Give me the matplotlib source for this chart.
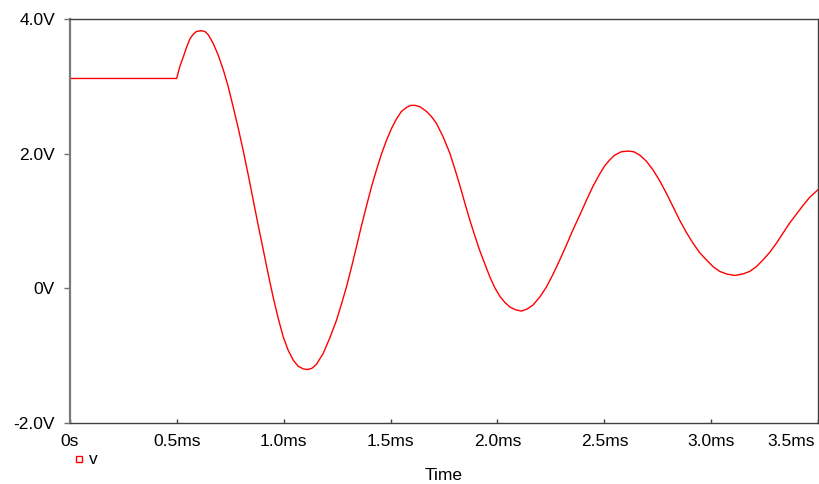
import matplotlib
matplotlib.use("Agg")
import matplotlib.pyplot as plt
from matplotlib.lines import Line2D
import matplotlib.transforms as mtransforms

plt.rcParams['font.family'] = ['Liberation Sans', 'DejaVu Sans']

# transient voltage trace v(t), time in ms
time_ms = [0.000, 0.500, 0.515, 0.531, 0.547, 0.562, 0.578, 0.593, 0.614,
           0.632, 0.648, 0.671, 0.694, 0.718, 0.741, 0.764, 0.788, 0.811,
           0.835, 0.858, 0.881, 0.905, 0.928, 0.951, 0.975, 0.998, 1.021,
           1.045, 1.068, 1.092, 1.112, 1.133, 1.154, 1.185, 1.216, 1.248,
           1.271, 1.294, 1.318, 1.341, 1.364, 1.388, 1.411, 1.435, 1.458,
           1.481, 1.505, 1.528, 1.551, 1.575, 1.595, 1.614, 1.637, 1.668,
           1.692, 1.715, 1.746, 1.777, 1.800, 1.824, 1.847, 1.871, 1.894,
           1.917, 1.941, 1.964, 1.987, 2.011, 2.034, 2.058, 2.084, 2.112,
           2.138, 2.166, 2.198, 2.229, 2.260, 2.291, 2.322, 2.353, 2.385,
           2.416, 2.447, 2.478, 2.501, 2.525, 2.548, 2.579, 2.610, 2.637,
           2.665, 2.696, 2.727, 2.758, 2.790, 2.821, 2.852, 2.883, 2.914,
           2.945, 2.977, 3.008, 3.039, 3.073, 3.109, 3.145, 3.179, 3.210,
           3.241, 3.272, 3.304, 3.335, 3.366, 3.397, 3.428, 3.459, 3.500]
volts = [3.12, 3.12, 3.30, 3.44, 3.59, 3.71, 3.78, 3.82, 3.83,
         3.82, 3.77, 3.64, 3.47, 3.25, 3.00, 2.70, 2.38, 2.05,
         1.68, 1.31, 0.94, 0.57, 0.21, -0.13, -0.45, -0.72, -0.92,
         -1.07, -1.16, -1.20, -1.21, -1.19, -1.13, -0.97, -0.74, -0.47,
         -0.23, 0.02, 0.32, 0.62, 0.93, 1.23, 1.51, 1.77, 2.00,
         2.20, 2.38, 2.52, 2.63, 2.69, 2.72, 2.72, 2.70, 2.63,
         2.55, 2.45, 2.25, 2.01, 1.78, 1.53, 1.27, 1.01, 0.78,
         0.56, 0.36, 0.17, 0.01, -0.12, -0.21, -0.28, -0.32, -0.34,
         -0.31, -0.25, -0.13, 0.02, 0.21, 0.42, 0.64, 0.87, 1.09,
         1.31, 1.52, 1.70, 1.82, 1.91, 1.98, 2.03, 2.04, 2.03,
         1.98, 1.89, 1.76, 1.60, 1.41, 1.21, 1.01, 0.83, 0.67,
         0.53, 0.42, 0.32, 0.25, 0.21, 0.19, 0.21, 0.25, 0.32,
         0.42, 0.53, 0.67, 0.82, 0.97, 1.10, 1.23, 1.35, 1.47]

x_ticks = [0, 0.5, 1.0, 1.5, 2.0, 2.5, 3.0, 3.5]
x_labels = ['0s', '0.5ms', '1.0ms', '1.5ms', '2.0ms', '2.5ms', '3.0ms', '3.5ms']
y_ticks = [-2, 0, 2, 4]
y_labels = ['-2.0V', '0V', '2.0V', '4.0V']

fig = plt.figure(figsize=(8.19, 4.84), dpi=100)
ax = fig.add_axes([0.0851, 0.1267, 0.9141, 0.8334])

ax.plot(time_ms, volts, color='#ff0000', lw=1.0)

ax.set_xlim(0, 3.5)
ax.set_ylim(-2, 4)
ax.set_xticks(x_ticks)
ax.set_xticklabels(x_labels, fontsize=12.5)
ax.set_yticks(y_ticks)
ax.set_yticklabels(y_labels, fontsize=12.5)

ax.tick_params(axis='x', direction='in', length=3, width=1, color='#404040', pad=8)
ax.tick_params(axis='y', direction='out', length=4.5, width=1, color='#707070', pad=6)

# keep the last time label inside the figure
last = ax.get_xticklabels()[-1]
last.set_horizontalalignment('right')
last.set_transform(last.get_transform() +
                   mtransforms.ScaledTranslation(-3 / 100, 0, fig.dpi_scale_trans))

for side in ['top', 'right', 'bottom']:
    ax.spines[side].set_color('#404040')
    ax.spines[side].set_linewidth(1.0)
ax.spines['left'].set_color('#7a7a7a')
ax.spines['left'].set_linewidth(1.6)

ax.set_xlabel('Time', fontsize=12.5)
ax.xaxis.set_label_coords(0.5, -0.113)

# trace legend below the axis
fig.add_artist(Line2D([79.3 / 819], [1 - 459 / 484], marker='s', ms=4.5,
                      mfc='none', mec='#ff0000', mew=1.0, ls='none'))
fig.text(89 / 819, 1 - 459 / 484, 'v', fontsize=12.5, va='center', ha='left')

fig.savefig('out.png', dpi=100)
